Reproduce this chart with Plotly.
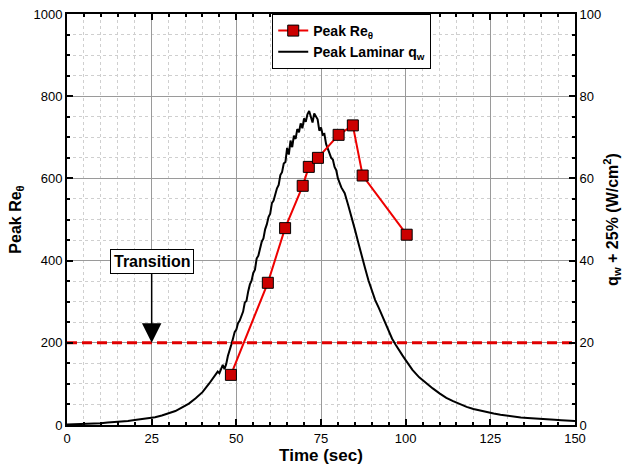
import plotly.graph_objects as go

# Peak momentum-thickness Reynolds number measurements
re_time = [48.4, 59.3, 64.4, 69.6, 71.4, 74.1, 80.2, 84.4, 87.3, 100.3]
re_peak = [122, 346, 479, 582, 628, 650, 706, 729, 607, 463]

# Peak laminar heat flux trace (W/cm^2)
q_time = [0, 2, 4, 6, 8, 10, 12, 14, 16, 18, 20, 22, 24, 26, 28, 30, 32, 34, 36, 38, 40, 42,
          44.0, 44.5, 45.0, 45.5, 46.0, 46.5, 47.0, 47.5, 48.0, 48.5, 49.0, 49.5, 50.0, 50.5,
          51.0, 51.5, 52.0, 52.5, 53.0, 53.5, 54.0, 54.5, 55.0, 55.5, 56.0, 56.5, 57.0, 57.5,
          58.0, 58.5, 59.0, 59.5, 60.0, 60.5, 61.0, 61.5, 62.0, 62.5, 63.0, 63.5, 64.0, 64.5,
          65.0, 65.5, 66.0, 66.5, 67.0, 67.5, 68.0, 68.5, 69.0, 69.5, 70.0, 70.5, 71.0, 71.5,
          72.0, 72.5, 73.0, 73.5, 74.0, 74.5, 75.0, 75.5, 76.0, 76.5, 77.0, 77.5, 78.0, 78.5,
          79.0, 79.5, 80.0,
          81, 82, 83, 84, 85, 86, 87, 88, 89, 90, 91, 92, 93, 94, 95, 96, 97, 98, 99, 100,
          102, 104, 106, 108, 110, 112, 114, 116, 118, 120, 122, 124, 126, 128, 130, 132, 134,
          136, 138, 140, 142, 144, 146, 148, 150]
q_peak = [0.1, 0.15, 0.2, 0.3, 0.35, 0.45, 0.6, 0.7, 0.85, 1.0, 1.2, 1.4, 1.6, 1.9, 2.3, 2.9, 3.4, 4.3, 5.2, 6.5, 8.0, 10.1,
          12.2, 13.0, 12.6, 13.5, 14.6, 13.6, 14.8, 16.8, 18.0, 19.5, 21.0, 22.6, 23.2, 24.8,
          25.4, 26.8, 27.6, 29.8, 30.2, 32.5, 34.2, 35.1, 37.0, 37.8, 40.5, 41.2, 42.8, 44.6,
          45.4, 47.6, 48.8, 50.6, 51.4, 54.0, 54.6, 56.2, 57.6, 58.4, 60.8, 61.5, 63.6, 64.0,
          67.4, 65.8, 69.2, 67.6, 70.4, 69.6, 72.0, 71.2, 73.4, 72.2, 74.6, 73.8, 75.6, 76.4,
          74.8, 73.6, 75.8, 75.0, 74.4, 71.6, 72.4, 70.6, 70.8, 68.4, 67.2, 66.4, 65.0, 64.6,
          62.8, 62.0, 60.0,
          57.8, 56.4, 53.6, 50.8, 47.6, 44.4, 41.6, 38.2, 35.2, 32.6, 30.4, 28.6, 26.6, 24.6, 22.8, 21.0, 19.6, 18.2, 17.0, 15.8,
          13.4, 11.6, 10.2, 8.9, 7.7, 6.6, 5.8, 5.0, 4.4, 3.9, 3.5, 3.1, 2.8, 2.5, 2.25, 2.05, 1.85,
          1.7, 1.55, 1.45, 1.35, 1.25, 1.15, 1.05, 1.0]

# Transition threshold
transition_re = 200
transition_span = [0, 150]

FONT = "Liberation Sans, Arial, sans-serif"

fig = go.Figure()

fig.add_trace(go.Scatter(
    x=re_time, y=re_peak, yaxis="y2", mode="lines+markers",
    name="<b>Peak Re<sub>θ</sub></b>",
    line=dict(color="#ee0000", width=2),
    marker=dict(symbol="square", size=11, color="#cc0000",
                line=dict(color="black", width=1)),
))
fig.add_trace(go.Scatter(
    x=q_time, y=q_peak, yaxis="y", mode="lines",
    name="<b>Peak Laminar q<sub>w</sub></b>",
    line=dict(color="black", width=2),
))
fig.add_trace(go.Scatter(
    x=transition_span, y=[transition_re, transition_re], yaxis="y2", mode="lines",
    showlegend=False, hoverinfo="skip",
    line=dict(color="#e00000", width=3, dash="10px,5px"),
))

fig.add_annotation(
    x=25, y=transition_re, xref="x", yref="y2",
    ax=25, ay=397, axref="x", ayref="y2",
    text="<b>Transition</b>", showarrow=True,
    arrowhead=2, arrowsize=2.6, arrowwidth=1.5, arrowcolor="black",
    font=dict(family=FONT, size=16, color="black"),
    bgcolor="white", bordercolor="black", borderwidth=1, borderpad=3,
    standoff=0,
)

major_grid = "#9a9a9a"
minor_grid = "#cfcfcf"

fig.update_layout(
    width=628, height=467,
    margin=dict(l=67, r=53, t=14, b=42, autoexpand=False),
    paper_bgcolor="white", plot_bgcolor="white",
    font=dict(family=FONT, size=13, color="black"),
    showlegend=True,
    legend=dict(
        x=0.404, y=1, xanchor="left", yanchor="top",
        bgcolor="white", bordercolor="black", borderwidth=1,
        font=dict(family=FONT, size=14, color="black"),
        itemwidth=30, tracegroupgap=0,
    ),
    xaxis=dict(
        range=[0, 150], dtick=25, tick0=0, automargin=False,
        showline=True, linecolor="black", linewidth=2, mirror="ticks",
        ticks="inside", ticklen=6, tickwidth=2, tickcolor="black",
        showgrid=True, gridcolor=major_grid, gridwidth=1,
        zeroline=False,
        minor=dict(dtick=5, ticks="inside", ticklen=3, tickcolor="black",
                   showgrid=True, gridcolor=minor_grid, griddash="dot", gridwidth=1),
        title=dict(text="<b>Time (sec)</b>", font=dict(size=17), standoff=4),
        tickfont=dict(size=13),
    ),
    yaxis=dict(
        range=[0, 100], dtick=20, tick0=0, side="right", automargin=False,
        showline=True, linecolor="black", linewidth=2,
        ticks="inside", ticklen=6, tickwidth=2, tickcolor="black",
        showgrid=True, gridcolor=major_grid, gridwidth=1,
        zeroline=False,
        minor=dict(dtick=5, ticks="inside", ticklen=3, tickcolor="black",
                   showgrid=True, gridcolor=minor_grid, griddash="dot", gridwidth=1),
        title=dict(text="<b>q<sub>w</sub> + 25% (W/cm<sup>2</sup>)</b>", font=dict(size=16), standoff=6),
        tickfont=dict(size=13),
    ),
    yaxis2=dict(
        range=[0, 1000], dtick=200, tick0=0, side="left", overlaying="y", automargin=False,
        showline=True, linecolor="black", linewidth=2,
        ticks="inside", ticklen=6, tickwidth=2, tickcolor="black",
        showgrid=False, zeroline=False,
        minor=dict(dtick=50, ticks="inside", ticklen=3, tickcolor="black"),
        title=dict(text="<b>Peak Re<sub>θ</sub></b>", font=dict(size=16), standoff=8),
        tickfont=dict(size=13),
    ),
)

fig.write_html("out.html")
